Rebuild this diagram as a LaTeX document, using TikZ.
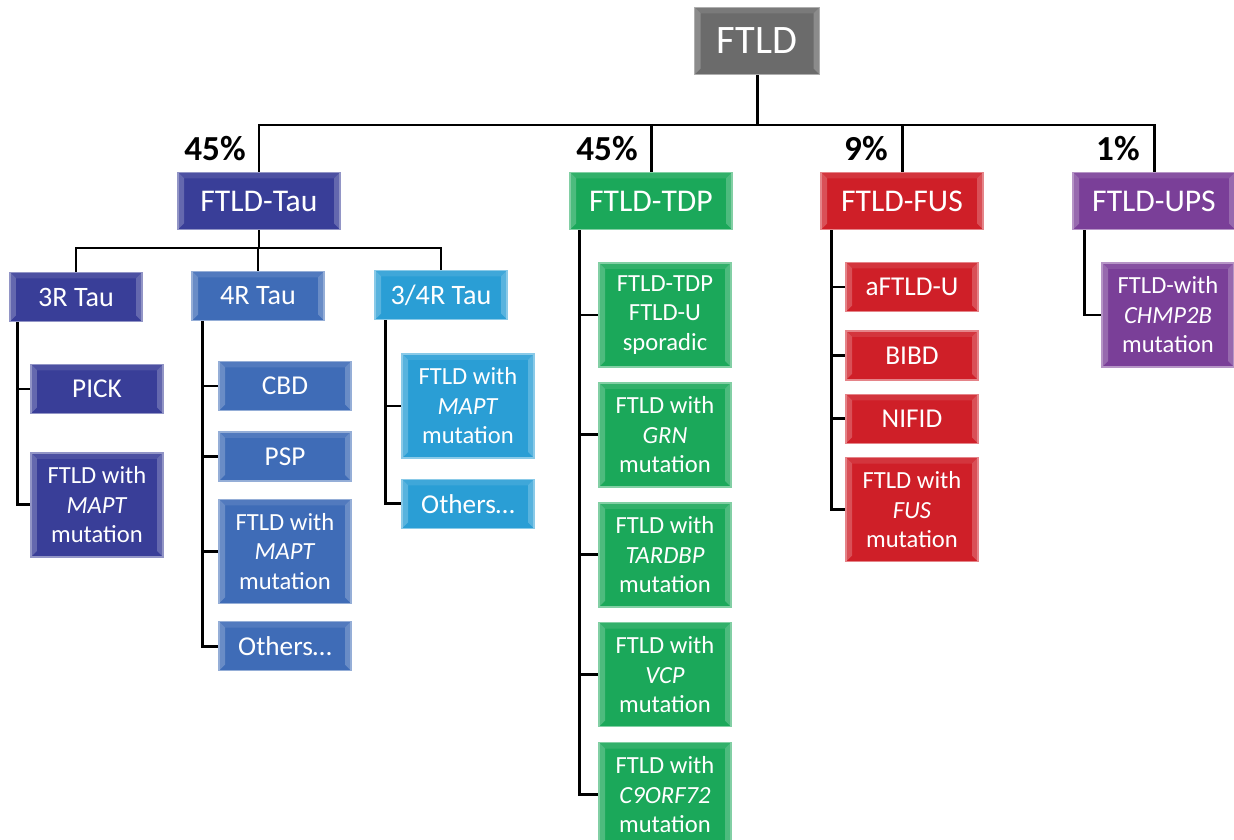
\documentclass[tikz,border=0pt]{standalone}
\usepackage{fontspec}
\setmainfont{Carlito}
\usetikzlibrary{positioning}
\definecolor{ftldgray}{HTML}{6B6B6B}
\definecolor{taublue}{HTML}{393E98}
\definecolor{fourblue}{HTML}{3F6CB7}
\definecolor{mixblue}{HTML}{2A9ED5}
\definecolor{tdpgreen}{HTML}{1BA85A}
\definecolor{fusred}{HTML}{CF1F28}
\definecolor{upspurple}{HTML}{7A3F98}
\tikzstyle{link} = [line width=1.7pt, black]

\begin{document}
\begin{tikzpicture}[
    x=0.2mm, y=-0.2mm,
    bevel/.style={path picture={
      \fill[white,opacity=.22] (path picture bounding box.north west) -- ++(1.2mm,-1.2mm)
        -- ([shift={(1.2mm,1.2mm)}]path picture bounding box.south west) -- (path picture bounding box.south west) -- cycle;
      \fill[white,opacity=.22] (path picture bounding box.north east) -- ++(-1.2mm,-1.2mm)
        -- ([shift={(-1.2mm,1.2mm)}]path picture bounding box.south east) -- (path picture bounding box.south east) -- cycle;
      \fill[white,opacity=.10] (path picture bounding box.north west) -- ++(1.2mm,-1.2mm)
        -- ([shift={(-1.2mm,-1.2mm)}]path picture bounding box.north east) -- (path picture bounding box.north east) -- cycle;
    }},
    box/.style={rectangle, fill=#1, draw=#1!55!white, line width=0.8pt, text=white, align=center, inner sep=0pt, bevel},
    root/.style={minimum width=25mm, minimum height=13.4mm, font=\fontsize{23}{27}\selectfont},
    top/.style={minimum width=32.4mm, minimum height=11.4mm, font=\fontsize{18}{21}\selectfont},
    mid/.style={minimum width=26.4mm, minimum height=9.8mm, font=\fontsize{16}{19}\selectfont},
    leaf/.style={minimum width=26.4mm, minimum height=9.8mm, font=\fontsize{15.5}{18}\selectfont},
    tall/.style={leaf, minimum height=20.8mm, font=\fontsize{14}{16.8}\selectfont},
    pct/.style={anchor=base east, inner sep=0pt, font=\bfseries\fontsize{20}{24}\selectfont}
  ]
  \useasboundingbox (0,0) rectangle (1234,840);

  \node[box=ftldgray, root] (ftld) at (757,41) {FTLD};

  \node[box=taublue, top] (tau) at (259,201) {FTLD-Tau};
  \node[box=tdpgreen, top] (tdp) at (651,201) {FTLD-TDP};
  \node[box=fusred, top] (fus) at (902,201) {FTLD-FUS};
  \node[box=upspurple, top] (ups) at (1154,201) {FTLD-UPS};

  \node[pct] (ptau) at ([shift={(-13,-11)}]tau.north) {45\%};
  \node[pct] (ptdp) at ([shift={(-13,-11)}]tdp.north) {45\%};
  \node[pct] (pfus) at ([shift={(-14,-11)}]fus.north) {9\%};
  \node[pct] (pups) at ([shift={(-14,-11)}]ups.north) {1\%};

  \node[box=taublue, mid] (r3) at (76,297) {3R Tau};
  \node[box=fourblue, mid] (r4) at (258,296) {4R Tau};
  \node[box=mixblue, mid] (r34) at (441,295) {3/4R Tau};

  \node[box=taublue, leaf] (pick) at (97,389) {PICK};
  \node[box=taublue, tall, below=7.6mm of pick] (mapt3) {FTLD with\\\textit{MAPT}\\mutation};

  \node[box=fourblue, leaf] (cbd) at (285,386) {CBD};
  \node[box=fourblue, leaf, below=4mm of cbd] (psp) {PSP};
  \node[box=fourblue, tall, below=3.4mm of psp] (mapt4) {FTLD with\\\textit{MAPT}\\mutation};
  \node[box=fourblue, leaf, below=3.4mm of mapt4] (oth4) {Others\ldots};

  \node[box=mixblue, tall] (mapt34) at (468,406) {FTLD with\\\textit{MAPT}\\mutation};
  \node[box=mixblue, leaf, below=4mm of mapt34] (oth34) {Others\ldots};

  \node[box=tdpgreen, tall] (spor) at (665,315) {FTLD-TDP\\FTLD-U\\sporadic};
  \node[box=tdpgreen, tall, below=2.9mm of spor] (grn) {FTLD with\\\textit{GRN}\\mutation};
  \node[box=tdpgreen, tall, below=2.9mm of grn] (tardbp) {FTLD with\\\textit{TARDBP}\\mutation};
  \node[box=tdpgreen, tall, below=2.9mm of tardbp] (vcp) {FTLD with\\\textit{VCP}\\mutation};
  \node[box=tdpgreen, tall, below=2.9mm of vcp] (c9) {FTLD with\\\textit{C9ORF72}\\mutation};

  \node[box=fusred, leaf] (aftld) at (912,287) {aFTLD-U};
  \node[box=fusred, leaf, below=3.6mm of aftld] (bibd) {BIBD};
  \node[box=fusred, leaf, below=2.6mm of bibd] (nifid) {NIFID};
  \node[box=fusred, tall, below=2.6mm of nifid] (fusm) {FTLD with\\\textit{FUS}\\mutation};

  \node[box=upspurple, tall] (chmp) at (1168,315) {FTLD-with\\\textit{CHMP2B}\\mutation};

  \coordinate (bus) at (0,125);
  \coordinate (taubus) at (0,248);

  \draw[link] (ftld.south) -- (ftld.south |- bus);
  \draw[link] (tau.north) |- (ups.north |- bus) -- (ups.north);
  \foreach \n in {tdp,fus}
    \draw[link] (\n.north) -- (\n.north |- bus);

  \draw[link] (tau.south) -- (tau.south |- taubus);
  \draw[link] (r3.north) |- (r34.north |- taubus) -- (r34.north);
  \draw[link] (r4.north) -- (r4.north |- taubus);

  \foreach \c in {pick,mapt3}
    \draw[link] (r3.south west) ++(8,0) |- (\c.west);
  \foreach \c in {cbd,psp,mapt4,oth4}
    \draw[link] (r4.south west) ++(11,0) |- (\c.west);
  \foreach \c in {mapt34,oth34}
    \draw[link] (r34.south west) ++(11,0) |- (\c.west);
  \foreach \c in {spor,grn,tardbp,vcp,c9}
    \draw[link] (tdp.south west) ++(10,0) |- (\c.west);
  \foreach \c in {aftld,bibd,nifid,fusm}
    \draw[link] (fus.south west) ++(11,0) |- (\c.west);
  \draw[link] (ups.south west) ++(12,0) |- (chmp.west);

\end{tikzpicture}
\end{document}
